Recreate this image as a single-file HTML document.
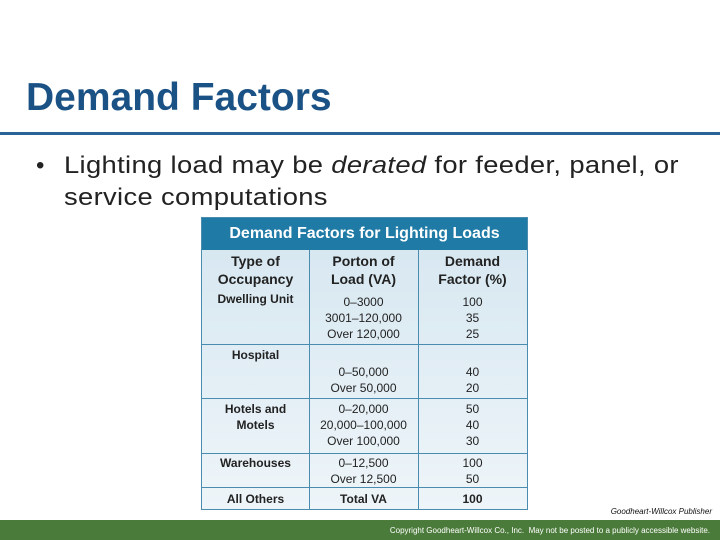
<!DOCTYPE html>
<html><head><meta charset="utf-8"><style>
body{margin:0;width:720px;height:540px;position:relative;background:#fff;font-family:"Liberation Sans",sans-serif;overflow:hidden}
.a{position:absolute;white-space:nowrap}
.t{position:absolute;text-align:center;font-size:12px;color:#222;line-height:16px}
.b{font-weight:bold}
</style></head><body>
<div class="a" style="left:26px;top:76px;font-size:39px;font-weight:bold;color:#1b5285">Demand Factors</div>
<div class="a" style="left:0;top:132px;width:720px;height:3px;background:#2a6496"></div>
<div class="a" style="left:36px;top:150px;font-size:24px;line-height:32px;color:#222">•</div>
<div class="a" style="left:64px;top:150px;font-size:24px;line-height:32px;color:#222;letter-spacing:0.3px;transform:scaleX(1.14);transform-origin:0 0">Lighting load may be <i>derated</i> for feeder, panel, or<br>service computations</div>
<div style="position:absolute;left:201px;top:217px;width:327px;height:293px;background:linear-gradient(#d5e6f0,#eef5f9);border:1px solid #4a8cb0;box-sizing:border-box">
<div class="a" style="left:0;top:0;width:325px;height:32px;background:#1f7aa6;color:#fff;font-weight:bold;font-size:16px;line-height:32px;text-align:center">Demand Factors for Lighting Loads</div>
<div class="a" style="left:107px;top:32px;width:1px;height:259px;background:#4a8cb0"></div>
<div class="a" style="left:216px;top:32px;width:1px;height:259px;background:#4a8cb0"></div>
<div class="a" style="left:0;top:126px;width:325px;height:1px;background:#4a8cb0"></div>
<div class="a" style="left:0;top:180px;width:325px;height:1px;background:#4a8cb0"></div>
<div class="a" style="left:0;top:235px;width:325px;height:1px;background:#4a8cb0"></div>
<div class="a" style="left:0;top:269px;width:325px;height:1px;background:#4a8cb0"></div>
<div class="t b" style="left:0;top:34px;width:107px;font-size:14px;line-height:18px">Type of<br>Occupancy</div>
<div class="t b" style="left:107px;top:34px;width:109px;font-size:14px;line-height:18px">Porton of<br>Load (VA)</div>
<div class="t b" style="left:216px;top:34px;width:109px;font-size:14px;line-height:18px">Demand<br>Factor (%)</div>
<div class="t b" style="left:0;top:73px;width:107px">Dwelling Unit</div>
<div class="t" style="left:107px;top:76px;width:109px">0–3000<br>3001–120,000<br>Over 120,000</div>
<div class="t" style="left:216px;top:76px;width:109px">100<br>35<br>25</div>
<div class="t b" style="left:0;top:129px;width:107px">Hospital</div>
<div class="t" style="left:107px;top:146px;width:109px">0–50,000<br>Over 50,000</div>
<div class="t" style="left:216px;top:146px;width:109px">40<br>20</div>
<div class="t b" style="left:0;top:183px;width:107px">Hotels and<br>Motels</div>
<div class="t" style="left:107px;top:183px;width:109px">0–20,000<br>20,000–100,000<br>Over 100,000</div>
<div class="t" style="left:216px;top:183px;width:109px">50<br>40<br>30</div>
<div class="t b" style="left:0;top:237px;width:107px">Warehouses</div>
<div class="t" style="left:107px;top:237px;width:109px">0–12,500<br>Over 12,500</div>
<div class="t" style="left:216px;top:237px;width:109px">100<br>50</div>
<div class="t b" style="left:0;top:273px;width:107px">All Others</div>
<div class="t b" style="left:107px;top:273px;width:109px">Total VA</div>
<div class="t b" style="left:216px;top:273px;width:109px">100</div>
</div>
<div class="a" style="right:8px;top:507px;font-size:8px;font-style:italic;color:#111">Goodheart-Willcox Publisher</div>
<div class="a" style="left:0;top:520px;width:720px;height:20px;background:#4b7b3a"></div>
<div class="a" style="right:10px;top:526px;font-size:8px;color:#fff">Copyright Goodheart-Willcox Co., Inc.&nbsp; May not be posted to a publicly accessible website.</div>
</body></html>
